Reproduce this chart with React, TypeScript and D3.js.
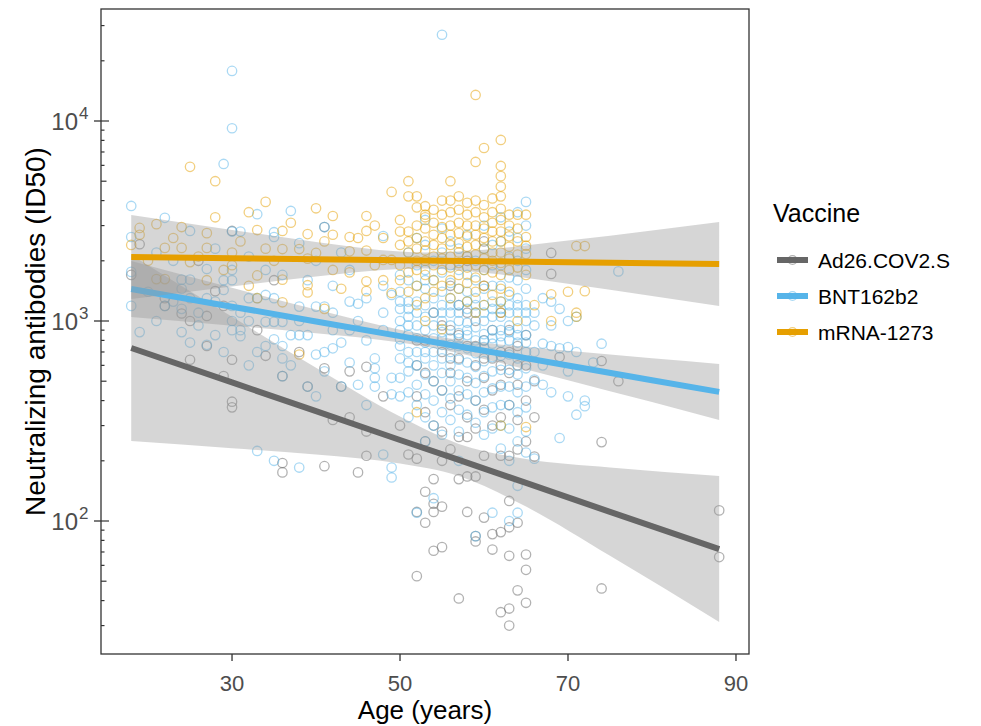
import React from 'react';
import * as d3 from 'd3';

const vaccines = ['Ad26.COV2.S', 'BNT162b2', 'mRNA-1273'];
const vaccineColors = ['#666666', '#56B4E9', '#E69F00'];
const ageTicks = [30, 50, 70, 90];
const yTickExps = [2, 3, 4];

// ---- observed points [age, ID50] ----
const ad26Points: [number, number][] = [
  [19, 2420], [22, 1190], [24, 1090], [25, 1000], [28, 1410], [30, 2820], [41, 2950], [29, 1190], [27, 1060],
  [25, 640], [27, 750], [29, 530], [30, 640], [30, 395], [30, 370], [34, 670], [36, 530], [39, 470], [41, 580],
  [43, 470], [44, 560], [46, 590], [36, 195], [36, 175], [41, 188], [45, 175], [46, 212], [42, 320], [46, 280],
  [33, 900], [38, 700], [22, 1300], [35, 1600], [18, 1700], [26, 2000], [44, 330], [48, 420], [50, 300],
  [51, 215], [52, 205], [53, 140], [52, 111], [53, 98], [52, 53],
  [52, 600], [52, 420], [53, 800], [53, 350], [53, 250], [54, 1100], [54, 500], [54, 300], [54, 162], [54, 122],
  [54, 111], [54, 71], [55, 700], [55, 450], [55, 280], [55, 200], [55, 118], [55, 74], [56, 900], [56, 550],
  [56, 380], [56, 228], [56, 1500], [57, 1200], [57, 650], [57, 420], [57, 263], [57, 162], [57, 41], [58, 750],
  [58, 500], [58, 330], [58, 263], [58, 167], [58, 111], [58, 2000], [59, 1000], [59, 600], [59, 400], [59, 290],
  [59, 167], [59, 84], [59, 79], [60, 1500], [60, 800], [60, 520], [60, 360], [60, 212], [60, 104], [60, 2500],
  [61, 650], [61, 450], [61, 300], [61, 86], [61, 72], [62, 1100], [62, 700], [62, 480], [62, 330], [62, 212],
  [62, 88], [62, 35], [63, 900], [63, 550], [63, 380], [63, 212], [63, 126], [63, 93], [63, 67], [63, 36.5],
  [63, 30], [64, 750], [64, 480], [64, 320], [64, 228], [64, 98], [64, 45], [65, 600], [65, 400], [65, 250],
  [65, 68], [65, 57], [65, 39], [66, 330], [66, 210], [68, 2190], [68, 1720], [69, 660], [74, 631], [76, 500],
  [74, 248], [74, 46], [88, 113], [88, 66],
  [52, 800], [53, 550], [55, 950], [56, 650], [57, 850], [58, 1100], [59, 750], [60, 650], [61, 900], [62, 600],
  [63, 700], [64, 600], [65, 850], [66, 500],
];

const bntPoints: [number, number][] = [
  [18, 3760], [18, 2630], [18, 1760], [18, 1190], [19, 880], [22, 3280], [25, 2820], [27, 1820], [29, 6100],
  [30, 9200], [30, 17800], [33, 3420], [37, 3550], [35, 2780], [35, 2630], [31, 2800], [30, 2800], [38, 2450],
  [41, 2950], [48, 2660], [24, 1610], [25, 1610], [24, 1450], [25, 1300], [24, 1150], [22, 1190], [24, 880],
  [25, 780], [27, 760], [29, 700], [29, 1600], [29, 1430], [30, 1800], [30, 1600], [30, 1190], [31, 1100],
  [30, 1000], [31, 900], [30, 900], [31, 840], [32, 1300], [32, 1000], [33, 1300], [34, 1350], [35, 1300],
  [34, 990], [35, 990], [36, 990], [34, 750], [35, 810], [36, 750], [36, 650], [36, 530], [37, 850], [38, 850],
  [39, 850], [38, 1180], [40, 1180], [41, 1180], [40, 680], [41, 700], [42, 730], [43, 780], [42, 1100],
  [44, 1250], [45, 1220], [39, 470], [43, 470], [45, 480], [47, 650], [47, 580], [47, 520], [47, 470], [49, 520],
  [49, 430], [48, 1500], [49, 1350], [33, 224], [35, 200], [38, 185], [49, 185], [49, 165], [48, 215], [20, 1400],
  [21, 2200], [23, 2000], [26, 1100], [28, 1250], [28, 2300], [32, 2100], [34, 1800], [36, 1700], [39, 1600],
  [40, 2000], [42, 1500], [43, 2200], [44, 900], [45, 1000], [46, 1300], [46, 800], [48, 900], [48, 1100],
  [41, 560], [44, 620], [37, 600], [33, 700], [26, 950], [28, 850], [32, 600], [40, 420], [46, 380], [42, 900],
  [44, 1800], [38, 1000], [27, 1300], [23, 1250], [21, 1000],
  [50, 1700], [50, 1400], [50, 1150], [50, 1000], [50, 900], [50, 810], [50, 650], [50, 520], [50, 420],
  [51, 2200], [51, 1600], [51, 1250], [51, 1050], [51, 950], [51, 850], [51, 700], [51, 560], [51, 440], [51, 330],
  [52, 2600], [52, 1900], [52, 1500], [52, 1250], [52, 1100], [52, 950], [52, 820], [52, 700], [52, 600], [52, 480],
  [52, 380], [52, 110], [53, 3200], [53, 2400], [53, 1800], [53, 1450], [53, 1200], [53, 1050], [53, 900],
  [53, 780], [53, 650], [53, 540], [53, 430], [53, 330], [53, 250], [54, 2000], [54, 1600], [54, 1300], [54, 1100],
  [54, 950], [54, 820], [54, 700], [54, 600], [54, 500], [54, 400], [54, 300], [54, 130], [55, 27000], [55, 2900],
  [55, 2200], [55, 1750], [55, 1400], [55, 1200], [55, 1000], [55, 880], [55, 760], [55, 650], [55, 550],
  [55, 450], [55, 350], [55, 270], [56, 2500], [56, 1900], [56, 1550], [56, 1300], [56, 1100], [56, 950],
  [56, 820], [56, 700], [56, 600], [56, 500], [56, 410], [56, 320], [57, 2300], [57, 1800], [57, 1450], [57, 1200],
  [57, 1000], [57, 870], [57, 750], [57, 640], [57, 540], [57, 450], [57, 360], [57, 280], [57, 200], [58, 2700],
  [58, 2100], [58, 1700], [58, 1400], [58, 1150], [58, 980], [58, 850], [58, 730], [58, 620], [58, 520], [58, 430],
  [58, 340], [59, 2000], [59, 1600], [59, 1300], [59, 1100], [59, 930], [59, 800], [59, 690], [59, 590], [59, 490],
  [59, 400], [59, 310], [59, 84], [60, 3000], [60, 2300], [60, 1800], [60, 1450], [60, 1200], [60, 1000],
  [60, 860], [60, 740], [60, 630], [60, 530], [60, 440], [60, 350], [60, 270], [61, 2400], [61, 1900], [61, 1500],
  [61, 1250], [61, 1050], [61, 900], [61, 770], [61, 660], [61, 560], [61, 460], [61, 370], [61, 290], [61, 110],
  [62, 3300], [62, 2500], [62, 1900], [62, 1500], [62, 1250], [62, 1050], [62, 900], [62, 780], [62, 670],
  [62, 570], [62, 470], [62, 380], [62, 300], [62, 230], [63, 2800], [63, 2100], [63, 1650], [63, 1350], [63, 1100],
  [63, 950], [63, 800], [63, 680], [63, 570], [63, 470], [63, 380], [63, 290], [63, 200], [63, 100], [64, 3500],
  [64, 2600], [64, 2000], [64, 1600], [64, 1300], [64, 1100], [64, 920], [64, 780], [64, 650], [64, 540], [64, 440],
  [64, 350], [64, 250], [64, 150], [64, 110], [65, 3940], [65, 3000], [65, 2300], [65, 1800], [65, 1450],
  [65, 1200], [65, 1000], [65, 850], [65, 700], [65, 580], [65, 470], [65, 370], [65, 280], [65, 220],
  [66, 950], [66, 510], [66, 205], [66, 1100], [66, 700], [67, 1300], [67, 770], [67, 480], [67, 600], [68, 1250],
  [68, 950], [68, 750], [68, 440], [69, 1150], [69, 730], [69, 260], [70, 1000], [70, 740], [70, 420], [70, 560],
  [71, 1050], [71, 700], [71, 340], [72, 400], [72, 375], [73, 620], [74, 770], [76, 1770],
  [50, 1250], [50, 750], [51, 1150], [51, 620], [53, 1600], [53, 700], [55, 1100], [55, 820], [56, 1200],
  [56, 760], [57, 1100], [57, 820], [58, 1250], [58, 900], [59, 1200], [59, 740], [60, 1100], [60, 800],
  [61, 1150], [61, 820], [62, 1150], [62, 840], [63, 1200], [63, 880], [64, 1200], [64, 850], [65, 1100],
  [65, 780],
];

const mrnaPoints: [number, number][] = [
  [25, 5900], [28, 5000], [34, 3940], [32, 3500], [28, 3300], [40, 3660], [42, 3350], [46, 3350], [46, 2820],
  [44, 2630], [39, 2720], [36, 2820], [33, 2850], [27, 2750], [21, 3050], [19, 2920], [24, 2950], [22, 2320],
  [24, 2320], [27, 2320], [36, 2290], [38, 2290], [40, 2190], [44, 2230], [46, 2250], [48, 2020], [49, 2020],
  [51, 2800], [49, 4420], [51, 5000], [52, 4200], [53, 3750], [53, 3400], [21, 1620], [22, 1620], [27, 1600],
  [33, 1690], [36, 1610], [39, 1510], [39, 1390], [41, 1150], [38, 680], [46, 1580], [46, 1410], [48, 1600],
  [49, 1380], [50, 1600], [36, 1240], [25, 1970], [19, 2700], [30, 2200], [30, 1900], [31, 2500], [35, 2000],
  [42, 1800], [43, 1450], [45, 2600], [47, 3000], [23, 2600], [26, 2100], [20, 2000], [29, 1800], [33, 1300],
  [37, 3100], [41, 2500], [18, 2400], [34, 2300], [44, 1750], [47, 1900], [50, 3200], [48, 2600], [42, 2700],
  [39, 2050], [32, 1500],
  [50, 2800], [50, 2400], [50, 1900], [51, 4200], [51, 2500], [51, 2200], [51, 1750], [51, 1400], [52, 3700],
  [52, 3000], [52, 2600], [52, 2300], [52, 2000], [52, 1800], [52, 1500], [52, 1200], [52, 350], [53, 3300],
  [53, 2900], [53, 2500], [53, 2250], [53, 2000], [53, 1700], [53, 1300], [53, 1000], [54, 3600], [54, 3100],
  [54, 2700], [54, 2400], [54, 2100], [54, 1900], [54, 1600], [54, 1400], [55, 4000], [55, 3400], [55, 2950],
  [55, 2600], [55, 2300], [55, 2050], [55, 1800], [55, 1500], [55, 910], [56, 5000], [56, 4000], [56, 3500],
  [56, 3000], [56, 2700], [56, 2400], [56, 2100], [56, 1850], [56, 1600], [56, 1300], [57, 4200], [57, 3600],
  [57, 3100], [57, 2750], [57, 2450], [57, 2200], [57, 1950], [57, 1700], [57, 1450], [58, 3900], [58, 3400],
  [58, 3000], [58, 2650], [58, 2350], [58, 2100], [58, 1850], [58, 1550], [58, 1250], [59, 13500], [59, 6240],
  [59, 4000], [59, 3500], [59, 3000], [59, 2700], [59, 2400], [59, 2150], [59, 1900], [59, 1650], [59, 1400],
  [59, 1100], [60, 7330], [60, 3800], [60, 3300], [60, 2900], [60, 2600], [60, 2300], [60, 2050], [60, 1800],
  [60, 1500], [60, 1200], [61, 4100], [61, 3500], [61, 3100], [61, 2800], [61, 2500], [61, 2200], [61, 2000],
  [61, 1750], [61, 1350], [62, 8040], [62, 5960], [62, 5300], [62, 4700], [62, 4200], [62, 3640], [62, 3200],
  [62, 2800], [62, 2500], [62, 2200], [62, 1950], [62, 1700], [62, 1450], [62, 1250], [62, 1100], [62, 300],
  [63, 3400], [63, 3000], [63, 2650], [63, 2350], [63, 2050], [63, 1800], [63, 1400], [64, 3400], [64, 2900],
  [64, 2500], [64, 2150], [64, 1850], [64, 1000], [65, 3400], [65, 2630], [65, 2380], [65, 2160], [65, 1700],
  [65, 295], [66, 1200], [68, 1360], [68, 1000], [70, 1400], [71, 2370], [71, 1100], [71, 1050], [72, 2370],
  [72, 1410],
];

// ---- fitted lines with 95% bands ----
const ad26FitAge = [18, 30, 40, 50, 57, 65, 75, 88];
const ad26Fit = [733, 493, 354, 254, 202, 155, 111, 72.4];
const ad26Lower = [251, 231, 215, 194, 168, 118, 67, 31.3];
const ad26Upper = [2138, 1050, 584, 333, 243, 204, 185, 168];

const bntFitAge = [18, 30, 40, 50, 54, 60, 70, 80, 88];
const bntFit = [1445, 1179, 995, 840, 785, 710, 599, 506, 442];
const bntLower = [1047, 947, 869, 781, 733, 646, 506, 393, 320];
const bntUpper = [1995, 1467, 1140, 905, 841, 779, 709, 651, 610];

const mrnaFitAge = [18, 30, 40, 50, 53, 60, 70, 80, 88];
const mrnaFit = [2089, 2061, 2037, 2014, 2007, 1991, 1968, 1945, 1928];
const mrnaLower = [1288, 1488, 1669, 1820, 1830, 1744, 1535, 1334, 1189];
const mrnaUpper = [3388, 2855, 2486, 2227, 2200, 2273, 2523, 2838, 3126];

const W = 981;
const H = 726;
const panel = { left: 101, right: 749, top: 9, bottom: 654 };
const FONT = "'Liberation Sans', Arial, Helvetica, sans-serif";

export default function App() {
  const x = d3.scaleLinear().domain([14.4, 91.55]).range([panel.left, panel.right]);
  const y = d3.scaleLog().domain([Math.pow(10, 1.335), Math.pow(10, 4.56)]).range([panel.bottom, panel.top]);

  const series = [
    { pts: ad26Points, age: ad26FitAge, fit: ad26Fit, lo: ad26Lower, hi: ad26Upper },
    { pts: bntPoints, age: bntFitAge, fit: bntFit, lo: bntLower, hi: bntUpper },
    { pts: mrnaPoints, age: mrnaFitAge, fit: mrnaFit, lo: mrnaLower, hi: mrnaUpper },
  ];

  const bands = series.map((s) => {
    const idx = s.age.map((_, i) => i);
    const a = d3
      .area<number>()
      .x((i) => x(s.age[i]))
      .y0((i) => y(s.lo[i]))
      .y1((i) => y(s.hi[i]))
      .curve(d3.curveMonotoneX);
    const l = d3
      .line<number>()
      .x((i) => x(s.age[i]))
      .y((i) => y(s.fit[i]));
    return { band: a(idx) || '', line: l(idx) || '' };
  });

  // log ticks (annotation_logticks on left side)
  const logTicks: { v: number; kind: number }[] = [];
  const [d0, d1] = y.domain();
  for (let e = 1; e <= 4; e++) {
    for (let m = 1; m <= 9; m++) {
      const v = m * Math.pow(10, e);
      if (v >= d0 && v <= d1) logTicks.push({ v, kind: m === 1 ? 2 : m === 5 ? 1 : 0 });
    }
  }
  const tickLen = [3.5, 5.5, 8];

  const legendY = [260, 296, 332];

  return (
    <svg
      width={W}
      height={H}
      style={{ position: 'absolute', left: 0, top: 0, background: '#fff' }}
      fontFamily={FONT}
    >
      <rect x={0} y={0} width={W} height={H} fill="#fff" />
      {/* points */}
      <g>
        {series.map((s, si) =>
          s.pts.map((p, i) => (
            <circle
              key={`${si}-${i}`}
              cx={x(p[0])}
              cy={y(p[1])}
              r={4.7}
              fill="none"
              stroke={vaccineColors[si]}
              strokeOpacity={0.5}
              strokeWidth={1.3}
            />
          ))
        )}
      </g>
      {/* smooth bands and lines */}
      {bands.map((b, i) => (
        <g key={i}>
          <path d={b.band} fill="#999999" fillOpacity={0.4} stroke="none" />
          <path d={b.line} fill="none" stroke={vaccineColors[i]} strokeWidth={6} />
        </g>
      ))}
      {/* panel border */}
      <rect
        x={panel.left}
        y={panel.top}
        width={panel.right - panel.left}
        height={panel.bottom - panel.top}
        fill="none"
        stroke="#333333"
        strokeWidth={1.3}
      />
      {/* log ticks inside left */}
      {logTicks.map((t, i) => (
        <line
          key={i}
          x1={panel.left}
          x2={panel.left + tickLen[t.kind]}
          y1={y(t.v)}
          y2={y(t.v)}
          stroke="#333333"
          strokeWidth={1.2}
        />
      ))}
      {/* y axis major ticks and labels */}
      {yTickExps.map((e) => {
        const yy = y(Math.pow(10, e));
        return (
          <g key={e}>
            <line x1={panel.left - 7} x2={panel.left} y1={yy} y2={yy} stroke="#333333" strokeWidth={1.3} />
            <text x={78} y={yy + 8.5} textAnchor="end" fontSize={24} fill="#4d4d4d">
              10
            </text>
            <text x={79} y={yy - 2} textAnchor="start" fontSize={17} fill="#4d4d4d">
              {e}
            </text>
          </g>
        );
      })}
      {/* x axis ticks and labels */}
      {ageTicks.map((a) => (
        <g key={a}>
          <line x1={x(a)} x2={x(a)} y1={panel.bottom} y2={panel.bottom + 7} stroke="#333333" strokeWidth={1.3} />
          <text x={x(a)} y={691} textAnchor="middle" fontSize={22} fill="#4d4d4d">
            {a}
          </text>
        </g>
      ))}
      {/* axis titles */}
      <text x={(panel.left + panel.right) / 2} y={719} textAnchor="middle" fontSize={26} fill="#000">
        Age (years)
      </text>
      <text
        transform={`translate(45, ${(panel.top + panel.bottom) / 2}) rotate(-90)`}
        textAnchor="middle"
        fontSize={28}
        fill="#000"
      >
        Neutralizing antibodies (ID50)
      </text>
      {/* legend */}
      <text x={773} y={222} fontSize={25} fill="#000">
        Vaccine
      </text>
      {vaccines.map((v, i) => (
        <g key={v}>
          <line x1={777} x2={808} y1={legendY[i]} y2={legendY[i]} stroke={vaccineColors[i]} strokeWidth={6} />
          <circle cx={792.5} cy={legendY[i]} r={4.4} fill="none" stroke={vaccineColors[i]} strokeOpacity={0.5} strokeWidth={1.3} />
          <text x={818} y={legendY[i] + 7.5} fontSize={21} fill="#000">
            {v}
          </text>
        </g>
      ))}
    </svg>
  );
}
